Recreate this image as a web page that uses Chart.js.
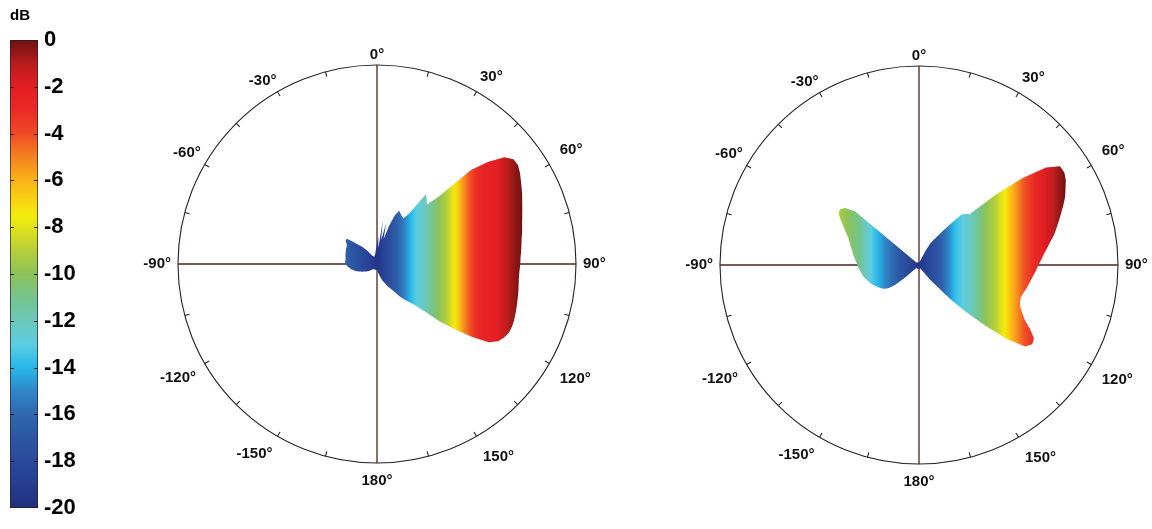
<!DOCTYPE html>
<html><head><meta charset="utf-8">
<script src="https://cdn.jsdelivr.net/npm/chart.js@4.4.1/dist/chart.umd.min.js"></script>
<style>
html,body{margin:0;padding:0;background:#fff;width:1152px;height:529px;overflow:hidden;}
.wrap{position:absolute;}
canvas{display:block;}
</style></head><body>
<div class="wrap" id="cbWrap" style="left:0;top:0"><canvas id="cb" width="100" height="529" style="width:100px;height:529px"></canvas></div>
<div class="wrap" id="p1Wrap" style="left:116px;top:4px"><canvas id="p1" width="520" height="520" style="width:520px;height:520px"></canvas></div>
<div class="wrap" id="p2Wrap" style="left:658px;top:5px"><canvas id="p2" width="520" height="520" style="width:520px;height:520px"></canvas></div>
<script>
// ---------- DATA ----------
// sample directions (deg, clockwise from top), 2.5 deg grid
const sampleAngles = Array.from({length: 144}, (_, i) => i * 2.5);
// angular tick labels
const angleTickValues = [0, 30, 60, 90, 120, 150, 180, 210, 240, 270, 300, 330];
const angleTickLabels = ['0°', '30°', '60°', '90°', '120°', '150°', '180°', '-150°', '-120°', '-90°', '-60°', '-30°'];
// normalised radiation pattern radius (fraction of outer circle), left plot
const leftPattern = [
  0.10, 0.14, 0.08, 0.22, 0.12, 0.21, 0.13, 0.20, 0.26, 0.29, 0.28, 0.27,
  0.265, 0.30, 0.43, 0.41, 0.39, 0.46, 0.67, 0.76, 0.835, 0.865, 0.865, 0.852,
  0.835, 0.82, 0.805, 0.79, 0.777, 0.765, 0.755, 0.747, 0.738, 0.732, 0.727, 0.722,
  0.72, 0.717, 0.716, 0.718, 0.722, 0.726, 0.73, 0.735, 0.74, 0.745, 0.748, 0.747,
  0.738, 0.722, 0.685, 0.60, 0.51, 0.425, 0.33, 0.28, 0.25, 0.225, 0.20, 0.17,
  0.15, 0.135, 0.12, 0.105, 0.095, 0.085, 0.07, 0.06, 0.05, 0.045, 0.035, 0.03,
  0.03, 0.03, 0.03, 0.03, 0.03, 0.03, 0.03, 0.03, 0.03, 0.03, 0.03, 0.03,
  0.03, 0.03, 0.035, 0.035, 0.035, 0.04, 0.045, 0.05, 0.055, 0.06, 0.065, 0.07,
  0.075, 0.085, 0.09, 0.10, 0.105, 0.115, 0.12, 0.13, 0.135, 0.14, 0.148, 0.155,
  0.158, 0.16, 0.16, 0.16, 0.16, 0.162, 0.164, 0.166, 0.168, 0.17, 0.172, 0.174,
  0.176, 0.18, 0.19, 0.198, 0.198, 0.17, 0.14, 0.125, 0.11, 0.09, 0.075, 0.06,
  0.05, 0.045, 0.045, 0.04, 0.04, 0.04, 0.045, 0.05, 0.05, 0.06, 0.07, 0.08
];
// normalised radiation pattern radius, right plot
const rightPattern = [
  0.015, 0.015, 0.015, 0.015, 0.015, 0.015, 0.02, 0.025, 0.03, 0.05, 0.08, 0.12,
  0.145, 0.17, 0.21, 0.26, 0.33, 0.35, 0.36, 0.525, 0.68, 0.805, 0.865, 0.866,
  0.852, 0.83, 0.81, 0.785, 0.76, 0.737, 0.715, 0.695, 0.67, 0.65, 0.63, 0.615,
  0.60, 0.59, 0.578, 0.568, 0.56, 0.552, 0.543, 0.537, 0.54, 0.551, 0.573, 0.60,
  0.645, 0.685, 0.695, 0.672, 0.58, 0.45, 0.33, 0.23, 0.14, 0.10, 0.065, 0.04,
  0.03, 0.025, 0.02, 0.02, 0.02, 0.02, 0.02, 0.02, 0.02, 0.02, 0.02, 0.02,
  0.02, 0.02, 0.02, 0.02, 0.02, 0.02, 0.02, 0.02, 0.02, 0.02, 0.02, 0.02,
  0.02, 0.02, 0.02, 0.02, 0.02, 0.02, 0.03, 0.09, 0.155, 0.19, 0.207, 0.22,
  0.228, 0.236, 0.245, 0.255, 0.262, 0.268, 0.275, 0.283, 0.289, 0.293, 0.298, 0.305,
  0.31, 0.315, 0.322, 0.33, 0.338, 0.345, 0.355, 0.365, 0.375, 0.39, 0.41, 0.43,
  0.455, 0.478, 0.487, 0.47, 0.42, 0.03, 0.02, 0.015, 0.015, 0.015, 0.015, 0.015,
  0.015, 0.015, 0.015, 0.015, 0.015, 0.015, 0.015, 0.015, 0.015, 0.015, 0.015, 0.015
];
// colour bar
const colorbarRange = [-20, 0];
const colorbarTicks = [0, -2, -4, -6, -8, -10, -12, -14, -16, -18, -20];

// ---------- STYLE ----------
const FONT = "'Liberation Sans', Arial, Helvetica, sans-serif";
// label distance from the rim, per angular tick (style only)
const labelPadding = [1.5, 7, 12, 7, 12, 13, 9, 10, 10, 7, 4.5, 2];
const jetStops = [
  [-20, '#232f7a'], [-19, '#263c91'], [-18, '#2a4a9c'], [-17, '#2c56a4'], [-16, '#2e68b0'],
  [-15, '#2f86c8'], [-14, '#25b8ea'], [-13, '#5ccde2'], [-12, '#6bc9bb'], [-11, '#74c48c'],
  [-10, '#8dc25a'], [-9, '#b4cf3a'], [-8, '#e3e31a'], [-7.5, '#f3ec0c'], [-7, '#f8d80f'],
  [-6, '#fbb217'], [-5, '#f58220'], [-4, '#ef4a24'], [-3, '#e92a25'], [-2, '#e31e24'],
  [-1, '#b81c1c'], [0, '#6e1010']
];
// horizontal offset from centre (px) -> colour level, per plot
const leftColorMap = [[-60, -15.5], [-30, -16.5], [0, -19.5], [20, -16.5], [35, -13.7], [48, -12], [60, -10.3],
  [70, -9], [77, -7.6], [86.5, -5.3], [93.5, -4], [105, -2.5], [120, -2], [135, -0.7], [145, 0]];
const rightColorMap = [[-80, -9.2], [-60, -11], [-43.5, -13.7], [-30, -15.5], [-15, -17.5], [0, -19.5],
  [20, -16.8], [36.5, -13.7], [53, -12], [66.5, -10], [76.5, -9], [85, -7.6], [99.5, -5], [106.5, -4],
  [120, -2.5], [133, -1.2], [147, 0]];

function hexRgb(h) { return [parseInt(h.slice(1, 3), 16), parseInt(h.slice(3, 5), 16), parseInt(h.slice(5, 7), 16)]; }
function jetColor(v) {
  if (v <= jetStops[0][0]) return jetStops[0][1];
  for (let i = 1; i < jetStops.length; i++) {
    if (v <= jetStops[i][0]) {
      const [a, ca] = jetStops[i - 1], [b, cb] = jetStops[i];
      const t = (v - a) / (b - a), A = hexRgb(ca), B = hexRgb(cb);
      return 'rgb(' + A.map((x, k) => Math.round(x + (B[k] - x) * t)).join(',') + ')';
    }
  }
  return jetStops[jetStops.length - 1][1];
}
function interp(map, x) {
  if (x <= map[0][0]) return map[0][1];
  for (let i = 1; i < map.length; i++) {
    if (x <= map[i][0]) { const [a, va] = map[i - 1], [b, vb] = map[i]; return va + (vb - va) * (x - a) / (b - a); }
  }
  return map[map.length - 1][1];
}
function shapeGradient(chart, map) {
  const sc = chart.scales.r;
  if (!sc || !isFinite(sc.xCenter)) return '#888';
  const cx = sc.xCenter, span = 170;
  const g = chart.ctx.createLinearGradient(cx - span, 0, cx + span, 0);
  for (let dx = -span; dx <= span; dx += 2) g.addColorStop((dx + span) / (2 * span), jetColor(interp(map, dx)));
  return g;
}
function cbGradient(chart) {
  const y = chart.scales.y;
  if (!y || !chart.chartArea) return '#888';
  const top = y.getPixelForValue(colorbarRange[1]), bot = y.getPixelForValue(colorbarRange[0]);
  const g = chart.ctx.createLinearGradient(0, top, 0, bot);
  for (let i = 0; i <= 80; i++) {
    const v = colorbarRange[1] + (colorbarRange[0] - colorbarRange[1]) * i / 80;
    g.addColorStop(i / 80, jetColor(v));
  }
  return g;
}

const rimTicks = {
  id: 'rimTicks',
  beforeDatasetsDraw(chart) {
    const sc = chart.scales.r, ctx = chart.ctx;
    ctx.save(); ctx.strokeStyle = '#2a2020'; ctx.lineWidth = 1.1;
    sampleAngles.forEach((a, i) => {
      if (a % 15 !== 0 || a % 90 === 0) return;
      const p = sc.getPointPosition(i, sc.drawingArea), q = sc.getPointPosition(i, sc.drawingArea - 5);
      ctx.beginPath(); ctx.moveTo(p.x, p.y); ctx.lineTo(q.x, q.y); ctx.stroke();
    });
    ctx.restore();
  }
};
const cbTicks = {
  id: 'cbTicks',
  afterDatasetsDraw(chart) {
    const y = chart.scales.y, ca = chart.chartArea, ctx = chart.ctx;
    ctx.save(); ctx.strokeStyle = '#222'; ctx.lineWidth = 1;
    colorbarTicks.forEach(v => {
      if (v === colorbarRange[0] || v === colorbarRange[1]) return;
      const py = Math.round(y.getPixelForValue(v)) + 0.5;
      ctx.beginPath(); ctx.moveTo(ca.left, py); ctx.lineTo(ca.left + 4, py);
      ctx.moveTo(ca.right - 4, py); ctx.lineTo(ca.right, py); ctx.stroke();
    });
    ctx.restore();
  }
};

function polarConfig(pattern, cmap) {
  return {
    type: 'radar',
    data: {
      labels: sampleAngles.map(a => { const k = angleTickValues.indexOf(a); return k >= 0 ? angleTickLabels[k] : ''; }),
      datasets: [{
        data: pattern, fill: true,
        backgroundColor: ctx => shapeGradient(ctx.chart, cmap),
        borderColor: 'rgba(0,0,0,0)', borderWidth: 0, pointRadius: 0, pointHoverRadius: 0, tension: 0
      }]
    },
    options: {
      responsive: false, animation: false, devicePixelRatio: 1, events: [],
      layout: { padding: 10 },
      plugins: { legend: { display: false }, tooltip: { enabled: false } },
      scales: {
        r: {
          min: 0, max: 1, startAngle: 0,
          ticks: { display: false, stepSize: 1 },
          grid: { circular: true, color: '#2a2020', lineWidth: 1.1 },
          angleLines: { display: true, color: '#4a2418', lineWidth: ctx => (sampleAngles[ctx.index] % 90 === 0 ? 1.3 : 0) },
          pointLabels: {
            display: true, color: '#111',
            padding: ctx => { const k = angleTickValues.indexOf(sampleAngles[ctx.index]); return k >= 0 ? labelPadding[k] : 7; },
            font: { family: FONT, size: 15, weight: 'bold' },
            callback: l => (l === '' ? [] : l)
          }
        }
      }
    },
    plugins: [rimTicks]
  };
}

function place(chart, wrap, tx, ty, tr) {
  for (let k = 0; k < 4; k++) {
    const d = chart.scales.r.drawingArea - tr;
    if (d === 0) break;
    chart.options.layout.padding = chart.options.layout.padding + d;
    chart.update();
  }
  const sc = chart.scales.r;
  wrap.style.left = (tx - sc.xCenter) + 'px';
  wrap.style.top = (ty - sc.yCenter) + 'px';
}

const p1 = new Chart(document.getElementById('p1'), polarConfig(leftPattern, leftColorMap));
const p2 = new Chart(document.getElementById('p2'), polarConfig(rightPattern, rightColorMap));
place(p1, document.getElementById('p1Wrap'), 376.5, 264, 199);
place(p2, document.getElementById('p2Wrap'), 918.5, 265.3, 199);

new Chart(document.getElementById('cb'), {
  type: 'bar',
  data: {
    labels: ['dB'],
    datasets: [{
      data: [colorbarRange], backgroundColor: ctx => cbGradient(ctx.chart),
      borderColor: '#222', borderWidth: 1, borderSkipped: false,
      barPercentage: 1, categoryPercentage: 1
    }]
  },
  options: {
    responsive: false, animation: false, devicePixelRatio: 1, events: [],
    layout: { padding: { left: 10, right: 12, top: 7, bottom: 21 } },
    plugins: {
      legend: { display: false }, tooltip: { enabled: false },
      title: { display: true, text: 'dB', align: 'start', color: '#000',
        font: { family: FONT, size: 15, weight: 'bold' }, padding: { top: 0, bottom: 15 } }
    },
    scales: {
      x: { display: false },
      y: {
        position: 'right', min: colorbarRange[0], max: colorbarRange[1],
        afterBuildTicks: s => { s.ticks = colorbarTicks.map(v => ({ value: v })); },
        afterFit: s => { s.width = 50; },
        ticks: { color: '#000', padding: 6, font: { family: FONT, size: 22, weight: 'bold' }, callback: v => String(v) },
        grid: { display: false, drawTicks: false },
        border: { display: false }
      }
    }
  },
  plugins: [cbTicks]
});
</script>
</body></html>
